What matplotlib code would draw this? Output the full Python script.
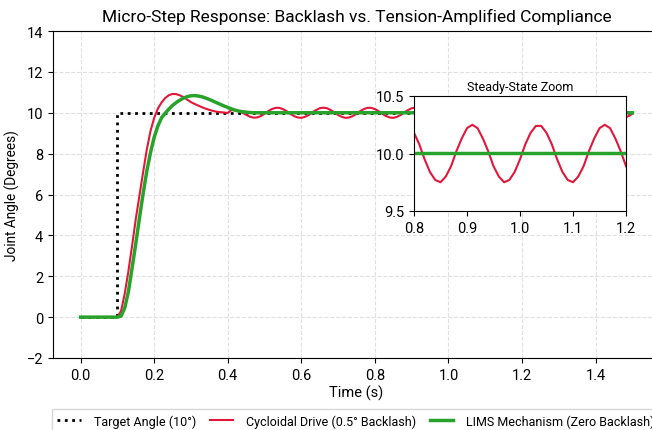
import numpy as np
import matplotlib
matplotlib.use("Agg")
import matplotlib.pyplot as plt

plt.rcParams['font.family'] = ['Roboto', 'DejaVu Sans']

# step target
target_t = [0.0, 0.10, 0.10, 1.50]
target_v = [0.0, 0.0, 10.0, 10.0]

# cycloidal drive (backlash limit cycle), sampled every 0.01 s from 0.10 s
red_t = np.r_[0.0, np.round(np.arange(0.10, 1.505, 0.01), 2)]
red_v = [0.0, 0.0,
         0.3, 1.15, 2.25, 3.5, 4.8, 5.95, 7.1, 8.2, 9.1, 9.75,
         10.2, 10.5, 10.72, 10.86, 10.92, 10.91, 10.85, 10.76, 10.64, 10.52,
         10.43, 10.35, 10.27, 10.2, 10.14, 10.09, 10.05, 10.03, 10.01, 9.99,
         10.13, 10.12, 10.07, 10.0, 9.9, 9.81, 9.76, 9.77, 9.84, 9.95,
         10.08, 10.18, 10.24, 10.24, 10.18, 10.08, 9.95, 9.84, 9.77, 9.75,
         9.80, 9.89, 10.02, 10.13, 10.22,
         10.25, 10.22, 10.13, 10.02, 9.89, 9.80, 9.75, 9.77, 9.84, 9.95,
         10.08, 10.18, 10.24, 10.24, 10.18, 10.08, 9.95, 9.84, 9.77, 9.75,
         9.80, 9.89, 10.02, 10.13, 10.22,
         10.25, 10.22, 10.13, 10.02, 9.89, 9.80, 9.75, 9.77, 9.84, 9.95,
         10.08, 10.18, 10.24, 10.24, 10.18, 10.08, 9.95, 9.84, 9.77, 9.75,
         9.80, 9.89, 10.02, 10.13, 10.22,
         10.25, 10.22, 10.13, 10.02, 9.89, 9.80, 9.75, 9.77, 9.84, 9.95,
         10.08, 10.18, 10.24, 10.24, 10.18, 10.08, 9.95, 9.84, 9.77, 9.75,
         9.80, 9.89, 10.02, 10.13, 10.22,
         10.25, 10.22, 10.13, 10.02, 9.89, 9.80, 9.75, 9.77, 9.84, 9.95]

# LIMS mechanism (zero backlash)
green_t = np.r_[0.0, np.round(np.arange(0.10, 0.475, 0.01), 2), 1.50]
green_v = [0.0, 0.0,
           0.05, 0.45, 1.25, 2.4, 3.6, 4.85, 6.05, 7.15, 8.05, 8.8,
           9.35, 9.75, 9.98, 10.18, 10.36, 10.5, 10.62, 10.72, 10.79, 10.83,
           10.84, 10.82, 10.78, 10.72, 10.65, 10.57, 10.49, 10.41, 10.33, 10.26,
           10.19, 10.13, 10.08, 10.05, 10.03, 10.01, 10.0,
           10.0]

red = '#e3173a'
green = '#27a32c'

fig = plt.figure(figsize=(6.52, 4.31), dpi=100)
ax = fig.add_axes([53/652, 72/431, 607/652, 327/431])

ax.plot(target_t, target_v, color='black', ls=':', lw=2, label='Target Angle (10°)')
ax.plot(red_t, red_v, color=red, lw=1.5, label='Cycloidal Drive (0.5° Backlash)')
ax.plot(green_t, green_v, color=green, lw=2.5, label='LIMS Mechanism (Zero Backlash)')

ax.set_xlim(-0.075, 1.575)
ax.set_ylim(-2, 14)
ax.set_xticks([0.0, 0.2, 0.4, 0.6, 0.8, 1.0, 1.2, 1.4])
ax.set_yticks(range(-2, 15, 2))
ax.tick_params(labelsize=10.5)
ax.grid(True, ls='--', color='#e0e0e0', lw=0.8)
ax.set_title('Micro-Step Response: Backlash vs. Tension-Amplified Compliance', fontsize=12.5, pad=7)
ax.set_xlabel('Time (s)', fontsize=10.5, labelpad=2)
ax.set_ylabel('Joint Angle (Degrees)', fontsize=9.8, labelpad=5)

handles, labels = ax.get_legend_handles_labels()
fig.legend(handles, labels, loc='upper left', bbox_to_anchor=(46/652, 1 - 404/431),
           ncol=3, fontsize=9, frameon=True, fancybox=False, edgecolor='#cccccc',
           handlelength=1.9, handletextpad=1.0, columnspacing=1.1)

# inset
axin = fig.add_axes([414/652, (431-212)/431, 212/652, 115/431])
axin.plot(red_t, red_v, color=red, lw=1.5)
axin.plot(green_t, green_v, color=green, lw=2.5)
axin.set_xlim(0.8, 1.2)
axin.set_ylim(9.5, 10.5)
axin.set_xticks([0.8, 0.9, 1.0, 1.1, 1.2])
axin.set_yticks([9.5, 10.0, 10.5])
axin.tick_params(labelsize=10.5)
axin.set_title('Steady-State Zoom', fontsize=9, pad=4)

fig.savefig('out.png', dpi=100)
